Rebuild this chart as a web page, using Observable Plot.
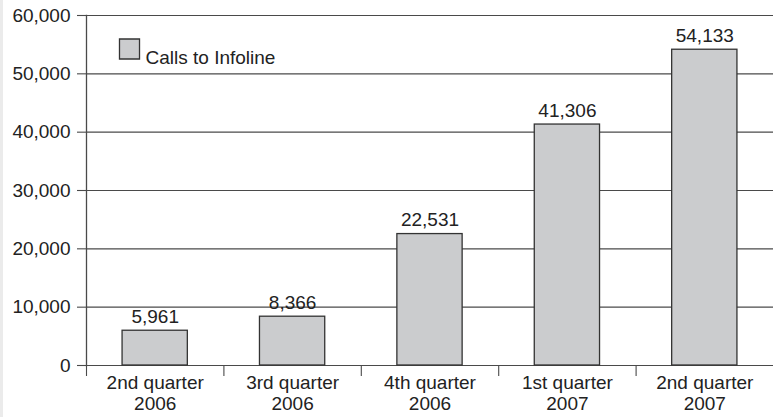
<!DOCTYPE html>
<html>
<head>
<meta charset="utf-8">
<script src="https://cdn.jsdelivr.net/npm/d3@7"></script>
<script src="https://cdn.jsdelivr.net/npm/@observablehq/plot@0.6"></script>
<style>
  html, body { margin: 0; padding: 0; background: #fff; }
  #wrap { position: relative; width: 773px; height: 417px; overflow: hidden; }
  #strip { position: absolute; left: 0; top: 0; width: 3px; height: 417px; background: #ebebeb; }
</style>
</head>
<body>
<div id="wrap"><div id="strip"></div></div>
<script>
const quarters = ["2nd quarter\n2006", "3rd quarter\n2006", "4th quarter\n2006", "1st quarter\n2007", "2nd quarter\n2007"];
const calls = [5961, 8366, 22531, 41306, 54133];
const yTicks = [0, 10000, 20000, 30000, 40000, 50000, 60000];
const seriesName = "Calls to Infoline";

const data = quarters.map((q, i) => ({q, calls: calls[i]}));

const width = 773, height = 417;
const marginLeft = 86, marginRight = 0, marginTop = 15, marginBottom = 52;
const step = (width - marginLeft - marginRight) / quarters.length;
const fmt = d3.format(",");
const lineColor = "#4a4a4a";

const chart = Plot.plot({
  width, height, marginLeft, marginRight, marginTop, marginBottom,
  style: {fontFamily: "'Liberation Sans', Arial, Helvetica, sans-serif", fontSize: "19px", color: "#222", background: "#fff"},
  x: {domain: quarters, paddingInner: 0.525, paddingOuter: 0.2625, round: false, label: null},
  y: {domain: [0, 60000], label: null},
  marks: [
    Plot.gridY(yTicks, {stroke: lineColor, strokeOpacity: 1, strokeWidth: 1.1}),
    Plot.axisY(yTicks, {tickSize: 9, tickPadding: 7, tickFormat: fmt, stroke: lineColor, strokeWidth: 1.1, label: null}),
    Plot.frame({anchor: "left", stroke: lineColor, strokeWidth: 1.3}),
    Plot.axisX({tickSize: 11, tickFormat: () => "", dx: -step / 2, stroke: lineColor, strokeWidth: 1.1, label: null}),
    Plot.axisX({tickSize: 0, tickPadding: 9, lineHeight: 1.1, label: null}),
    Plot.barY(data, {x: "q", y: "calls", fill: "#cbccce", stroke: "#333", strokeWidth: 1.3}),
    Plot.text(data, {x: "q", y: "calls", text: d => fmt(d.calls), dy: -14, fill: "#222"}),
    Plot.dot([seriesName], {frameAnchor: "top-left", dx: 43, dy: 33.5, symbol: "square", r: 11.3, fill: "#cbccce", stroke: "#333", strokeWidth: 1.3}),
    Plot.text([seriesName], {frameAnchor: "top-left", dx: 59, dy: 35, text: d => d, textAnchor: "start", fill: "#222"})
  ]
});
document.getElementById("wrap").appendChild(chart);
</script>
</body>
</html>
